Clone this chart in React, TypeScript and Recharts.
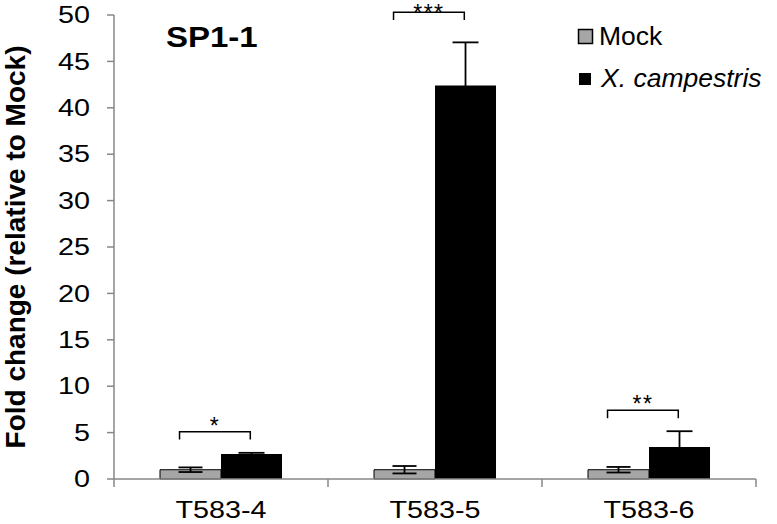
import React from "react";
import { BarChart, Bar, XAxis, YAxis, ErrorBar, LabelList, Label } from "recharts";

// fold change means and SD
const categories = ["T583-4", "T583-5", "T583-6"];
const mockMeans = [1.0, 1.0, 1.0];
const mockErrors = [0.25, 0.4, 0.3];
const campestrisMeans = [2.7, 42.4, 3.45];
const campestrisErrors = [0.12, 4.65, 1.7];
const bracketLevels = [5.1, 50.3, 7.4];
const significance = ["*", "***", "**"];
const yTicks = [0, 5, 10, 15, 20, 25, 30, 35, 40, 45, 50];

const FONT = '"Liberation Sans", Arial, sans-serif';
const AXIS_GREY = "#878787";
const MOCK_GREY = "#a6a6a6";

const data = categories.map((name, i) => ({
  name,
  mock: mockMeans[i],
  mockErr: mockErrors[i],
  xc: campestrisMeans[i],
  xcErr: campestrisErrors[i],
}));

function CategoryTick(props: any) {
  const { x, y, payload, width, visibleTicksCount, index } = props;
  const half = width && visibleTicksCount ? width / visibleTicksCount / 2 : 0;
  return (
    <g>
      {half > 0 && (
        <line x1={x - half} x2={x - half} y1={y} y2={y + 8} stroke={AXIS_GREY} strokeWidth={1.5} />
      )}
      {half > 0 && index === visibleTicksCount - 1 && (
        <line x1={x + half} x2={x + half} y1={y} y2={y + 8} stroke={AXIS_GREY} strokeWidth={1.5} />
      )}
      <g transform={`translate(${x},${y + 39}) scale(1.25,1)`}>
        <text x={0} y={0} textAnchor="middle" fontSize={23} fontFamily={FONT} fill="#000">
          {payload.value}
        </text>
      </g>
    </g>
  );
}

function ValueTick(props: any) {
  const { x, y, payload } = props;
  return (
    <g transform={`translate(${x},${y}) scale(1.25,1)`}>
      <text x={0} y={0} dy="0.355em" textAnchor="end" fontSize={23} fontFamily={FONT} fill="#000">
        {payload.value}
      </text>
    </g>
  );
}

function YTitle(props: any) {
  const vb = props.viewBox || {};
  const cx = vb.x + 25;
  const cy = vb.y + vb.height / 2;
  return (
    <text
      x={cx}
      y={cy}
      transform={`rotate(-90, ${cx}, ${cy})`}
      textAnchor="middle"
      fontSize={28}
      fontWeight="bold"
      fontFamily={FONT}
      fill="#000"
    >
      Fold change (relative to Mock)
    </text>
  );
}

// significance bracket drawn from the Mock bar geometry of each group
function Bracket(props: any) {
  const vb = props.viewBox && props.viewBox.width != null ? props.viewBox : props;
  const { x, y, width, height } = vb;
  const i = props.index;
  if (x == null || !height) return null;
  const pxPerUnit = height / mockMeans[i];
  const base = y + height;
  const by = base - bracketLevels[i] * pxPerUnit;
  const drop = 0.85 * pxPerUnit;
  const left = x + width * 0.32;
  const right = x + width * 1.48;
  return (
    <g>
      <path
        d={`M${left},${by + drop} V${by} H${right} V${by + drop}`}
        fill="none"
        stroke="#000"
        strokeWidth={1.5}
      />
      <text
        x={(left + right) / 2}
        y={Math.max(by + 2, 21)}
        textAnchor="middle"
        fontSize={23}
        letterSpacing={1.5}
        fontFamily={FONT}
        fill="#000"
      >
        {significance[i]}
      </text>
    </g>
  );
}

export default function App() {
  return (
    <div style={{ position: "absolute", left: 0, top: 0, width: 777, height: 524, background: "#fff" }}>
      <BarChart
        width={777}
        height={524}
        data={data}
        margin={{ top: 15, right: 21, bottom: 0, left: 0 }}
        barCategoryGap="21.5%"
        barGap={0}
      >
        <XAxis
          dataKey="name"
          height={45}
          interval={0}
          axisLine={{ stroke: AXIS_GREY, strokeWidth: 1.5 }}
          tickLine={false}
          tickSize={0}
          tickMargin={0}
          tick={<CategoryTick />}
        />
        <YAxis
          width={114}
          domain={[0, 50]}
          ticks={yTicks}
          interval={0}
          axisLine={{ stroke: AXIS_GREY, strokeWidth: 1.5 }}
          tickLine={{ stroke: AXIS_GREY, strokeWidth: 1.5 }}
          tickSize={7}
          tickMargin={17}
          tick={<ValueTick />}
          label={<Label content={YTitle} />}
        />
        <Bar dataKey="mock" name="Mock" fill={MOCK_GREY} stroke="#000" strokeWidth={1} isAnimationActive={false}>
          <ErrorBar dataKey="mockErr" width={12} stroke="#000" strokeWidth={1.8} isAnimationActive={false} />
          <LabelList dataKey="mock" content={Bracket} />
        </Bar>
        <Bar dataKey="xc" name="X. campestris" fill="#000" isAnimationActive={false}>
          <ErrorBar dataKey="xcErr" width={13} stroke="#000" strokeWidth={1.8} isAnimationActive={false} />
        </Bar>
      </BarChart>
      <svg
        width={777}
        height={524}
        style={{ position: "absolute", left: 0, top: 0, pointerEvents: "none" }}
      >
        <g transform="translate(166,47) scale(1.1,1)">
          <text x={0} y={0} fontSize={30} fontWeight="bold" fontFamily={FONT} fill="#000">
            SP1-1
          </text>
        </g>
        <rect x={578.5} y={29.5} width={14} height={14} fill={MOCK_GREY} stroke="#000" strokeWidth={1.5} />
        <text x={599} y={45} fontSize={26.5} fontFamily={FONT} fill="#000">
          Mock
        </text>
        <rect x={579} y={73} width={12} height={12} fill="#000" />
        <text x={601} y={87} fontSize={26.5} fontStyle="italic" fontFamily={FONT} fill="#000">
          X. campestris
        </text>
      </svg>
    </div>
  );
}
